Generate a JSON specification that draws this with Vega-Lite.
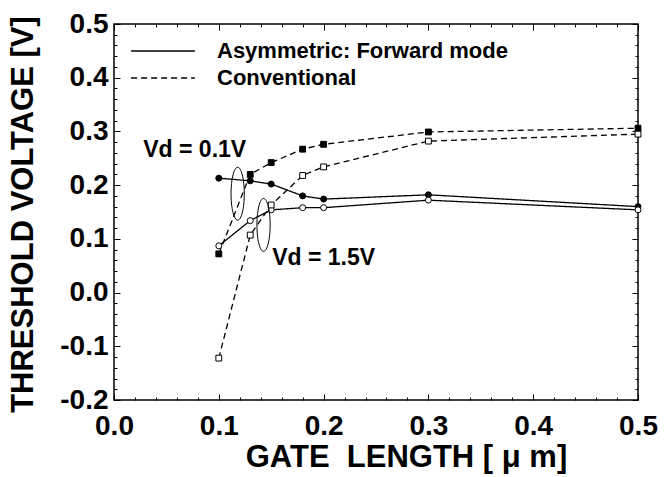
{
  "$schema": "https://vega.github.io/schema/vega-lite/v6.json",
  "width": 524,
  "height": 376,
  "autosize": {"type": "none"},
  "padding": {"left": 114, "top": 24, "right": 28, "bottom": 77},
  "background": "white",
  "config": {
    "view": {"stroke": "black", "strokeWidth": 1.5},
    "font": "Liberation Sans",
    "axis": {"domain": false, "grid": false, "tickColor": "black", "labelColor": "black", "titleColor": "black", "labelFont": "Liberation Sans", "titleFont": "Liberation Sans", "labelFontWeight": "bold", "titleFontWeight": "bold"}
  },
  "datasets": {
    "series": [
      {"L": 0.1, "Vth": 0.213, "type": "Asymmetric: Forward mode", "vd": "0.1"},
      {"L": 0.13, "Vth": 0.208, "type": "Asymmetric: Forward mode", "vd": "0.1"},
      {"L": 0.15, "Vth": 0.202, "type": "Asymmetric: Forward mode", "vd": "0.1"},
      {"L": 0.18, "Vth": 0.180, "type": "Asymmetric: Forward mode", "vd": "0.1"},
      {"L": 0.2, "Vth": 0.174, "type": "Asymmetric: Forward mode", "vd": "0.1"},
      {"L": 0.3, "Vth": 0.182, "type": "Asymmetric: Forward mode", "vd": "0.1"},
      {"L": 0.5, "Vth": 0.160, "type": "Asymmetric: Forward mode", "vd": "0.1"},
      {"L": 0.1, "Vth": 0.087, "type": "Asymmetric: Forward mode", "vd": "1.5"},
      {"L": 0.13, "Vth": 0.134, "type": "Asymmetric: Forward mode", "vd": "1.5"},
      {"L": 0.15, "Vth": 0.154, "type": "Asymmetric: Forward mode", "vd": "1.5"},
      {"L": 0.18, "Vth": 0.158, "type": "Asymmetric: Forward mode", "vd": "1.5"},
      {"L": 0.2, "Vth": 0.158, "type": "Asymmetric: Forward mode", "vd": "1.5"},
      {"L": 0.3, "Vth": 0.172, "type": "Asymmetric: Forward mode", "vd": "1.5"},
      {"L": 0.5, "Vth": 0.154, "type": "Asymmetric: Forward mode", "vd": "1.5"},
      {"L": 0.1, "Vth": 0.072, "type": "Conventional", "vd": "0.1"},
      {"L": 0.13, "Vth": 0.220, "type": "Conventional", "vd": "0.1"},
      {"L": 0.15, "Vth": 0.242, "type": "Conventional", "vd": "0.1"},
      {"L": 0.18, "Vth": 0.267, "type": "Conventional", "vd": "0.1"},
      {"L": 0.2, "Vth": 0.276, "type": "Conventional", "vd": "0.1"},
      {"L": 0.3, "Vth": 0.299, "type": "Conventional", "vd": "0.1"},
      {"L": 0.5, "Vth": 0.306, "type": "Conventional", "vd": "0.1"},
      {"L": 0.1, "Vth": -0.122, "type": "Conventional", "vd": "1.5"},
      {"L": 0.13, "Vth": 0.107, "type": "Conventional", "vd": "1.5"},
      {"L": 0.15, "Vth": 0.163, "type": "Conventional", "vd": "1.5"},
      {"L": 0.18, "Vth": 0.218, "type": "Conventional", "vd": "1.5"},
      {"L": 0.2, "Vth": 0.234, "type": "Conventional", "vd": "1.5"},
      {"L": 0.3, "Vth": 0.282, "type": "Conventional", "vd": "1.5"},
      {"L": 0.5, "Vth": 0.295, "type": "Conventional", "vd": "1.5"}
    ],
    "notes": [
      {"L": 0.077, "Vth": 0.266, "label": "Vd = 0.1V"},
      {"L": 0.2, "Vth": 0.064, "label": "Vd = 1.5V"}
    ],
    "rings": [
      {"L": 0.118, "Vth": 0.184, "group": "Vd = 0.1V"},
      {"L": 0.1427, "Vth": 0.126, "group": "Vd = 1.5V"}
    ]
  },
  "resolve": {"axis": {"x": "independent", "y": "independent"}},
  "layer": [
    {
      "data": {"name": "series"},
      "mark": {"type": "line", "color": "black", "strokeWidth": 1.3},
      "encoding": {
        "x": {"field": "L", "type": "quantitative", "scale": {"domain": [0, 0.5], "nice": false, "zero": false},
          "axis": {"orient": "bottom", "values": [0, 0.1, 0.2, 0.3, 0.4, 0.5], "format": ".1f", "tickSize": -6, "tickWidth": 1, "labelFontSize": 28, "labelPadding": 18, "labelFlush": false, "labelOverlap": false,
            "title": "GATE \u00a0LENGTH [ μ m]", "titleFontSize": 31, "titleX": 292, "titleY": 57, "titleAlign": "center", "titleBaseline": "middle"}},
        "y": {"field": "Vth", "type": "quantitative", "scale": {"domain": [-0.2, 0.5], "nice": false, "zero": false},
          "axis": {"orient": "left", "values": [-0.2, -0.1, 0, 0.1, 0.2, 0.3, 0.4, 0.5], "labelExpr": "replace(format(datum.value, '.1f'), '\u2212', '-')", "tickSize": -6, "tickWidth": 1, "labelFontSize": 28, "labelPadding": 12, "labelFlush": false, "labelOverlap": false,
            "title": "THRESHOLD VOLTAGE [V]", "titleFontSize": 31, "titleAngle": 270, "titleX": -91, "titleY": 190, "titleAlign": "center", "titleBaseline": "middle"}},
        "detail": {"field": "vd"},
        "strokeDash": {"field": "type", "type": "nominal",
          "scale": {"domain": ["Asymmetric: Forward mode", "Conventional"], "range": [[1, 0], [6, 4]]},
          "legend": {"title": null, "orient": "none", "legendX": 33.5, "legendY": 11.5, "symbolType": "M -2.2 0 L 2.2 0", "symbolSize": 841, "symbolStrokeWidth": 1.3, "symbolStrokeColor": "black", "symbolFillColor": "transparent", "labelFontSize": 22, "labelFontWeight": "bold", "labelFont": "Liberation Sans", "labelColor": "black", "labelOffset": 38.5, "padding": 0, "rowPadding": 0, "labelLimit": 0}}
      }
    },
    {
      "data": {"name": "series"},
      "transform": [{"filter": "datum.type == 'Asymmetric: Forward mode'"}],
      "mark": {"type": "point", "shape": "circle", "filled": true, "stroke": "black", "strokeWidth": 1, "size": 36, "opacity": 1},
      "encoding": {
        "x": {"field": "L", "type": "quantitative", "scale": {"domain": [0, 0.5], "nice": false, "zero": false},
          "axis": {"orient": "top", "values": [0, 0.1, 0.2, 0.3, 0.4, 0.5], "labels": false, "tickSize": -6, "tickWidth": 1, "title": null}},
        "y": {"field": "Vth", "type": "quantitative", "scale": {"domain": [-0.2, 0.5], "nice": false, "zero": false},
          "axis": {"orient": "right", "values": [-0.2, -0.1, 0, 0.1, 0.2, 0.3, 0.4, 0.5], "labels": false, "tickSize": -6, "tickWidth": 1, "title": null}},
        "fill": {"field": "vd", "type": "nominal", "scale": {"domain": ["0.1", "1.5"], "range": ["black", "white"]}, "legend": null}
      }
    },
    {
      "data": {"name": "series"},
      "transform": [{"filter": "datum.type == 'Conventional'"}],
      "mark": {"type": "point", "shape": "square", "filled": true, "stroke": "black", "strokeWidth": 1, "size": 34, "opacity": 1},
      "encoding": {
        "x": {"field": "L", "type": "quantitative", "scale": {"domain": [0, 0.5], "nice": false, "zero": false}, "axis": null},
        "y": {"field": "Vth", "type": "quantitative", "scale": {"domain": [-0.2, 0.5], "nice": false, "zero": false}, "axis": null},
        "fill": {"field": "vd", "type": "nominal", "scale": {"domain": ["0.1", "1.5"], "range": ["black", "white"]}, "legend": null}
      }
    },
    {
      "data": {"name": "notes"},
      "mark": {"type": "text", "font": "Liberation Sans", "fontWeight": "bold", "fontSize": 23, "color": "black", "align": "center", "baseline": "middle"},
      "encoding": {
        "x": {"field": "L", "type": "quantitative", "scale": {"domain": [0, 0.5], "nice": false, "zero": false},
          "axis": {"orient": "bottom", "values": [0.02, 0.04, 0.06, 0.08, 0.12, 0.14, 0.16, 0.18, 0.22, 0.24, 0.26, 0.28, 0.32, 0.34, 0.36, 0.38, 0.42, 0.44, 0.46, 0.48], "labels": false, "tickSize": -3, "tickWidth": 1, "title": null}},
        "y": {"field": "Vth", "type": "quantitative", "scale": {"domain": [-0.2, 0.5], "nice": false, "zero": false},
          "axis": {"orient": "left", "values": [-0.18, -0.16, -0.14, -0.12, -0.08, -0.06, -0.04, -0.02, 0.02, 0.04, 0.06, 0.08, 0.12, 0.14, 0.16, 0.18, 0.22, 0.24, 0.26, 0.28, 0.32, 0.34, 0.36, 0.38, 0.42, 0.44, 0.46, 0.48], "labels": false, "tickSize": -3, "tickWidth": 1, "title": null}},
        "text": {"field": "label", "type": "nominal"}
      }
    },
    {
      "data": {"name": "rings"},
      "mark": {"type": "point", "filled": false, "stroke": "black", "strokeWidth": 1, "size": 2809, "opacity": 1,
        "shape": "M 0 -1 C 0.138 -1 0.25 -0.552 0.25 0 C 0.25 0.552 0.138 1 0 1 C -0.138 1 -0.25 0.552 -0.25 0 C -0.25 -0.552 -0.138 -1 0 -1 Z"},
      "encoding": {
        "x": {"field": "L", "type": "quantitative", "scale": {"domain": [0, 0.5], "nice": false, "zero": false},
          "axis": {"orient": "top", "values": [0.02, 0.04, 0.06, 0.08, 0.12, 0.14, 0.16, 0.18, 0.22, 0.24, 0.26, 0.28, 0.32, 0.34, 0.36, 0.38, 0.42, 0.44, 0.46, 0.48], "labels": false, "tickSize": -3, "tickWidth": 1, "title": null}},
        "y": {"field": "Vth", "type": "quantitative", "scale": {"domain": [-0.2, 0.5], "nice": false, "zero": false},
          "axis": {"orient": "right", "values": [-0.18, -0.16, -0.14, -0.12, -0.08, -0.06, -0.04, -0.02, 0.02, 0.04, 0.06, 0.08, 0.12, 0.14, 0.16, 0.18, 0.22, 0.24, 0.26, 0.28, 0.32, 0.34, 0.36, 0.38, 0.42, 0.44, 0.46, 0.48], "labels": false, "tickSize": -3, "tickWidth": 1, "title": null}},
        "detail": {"field": "group"}
      }
    }
  ]
}
